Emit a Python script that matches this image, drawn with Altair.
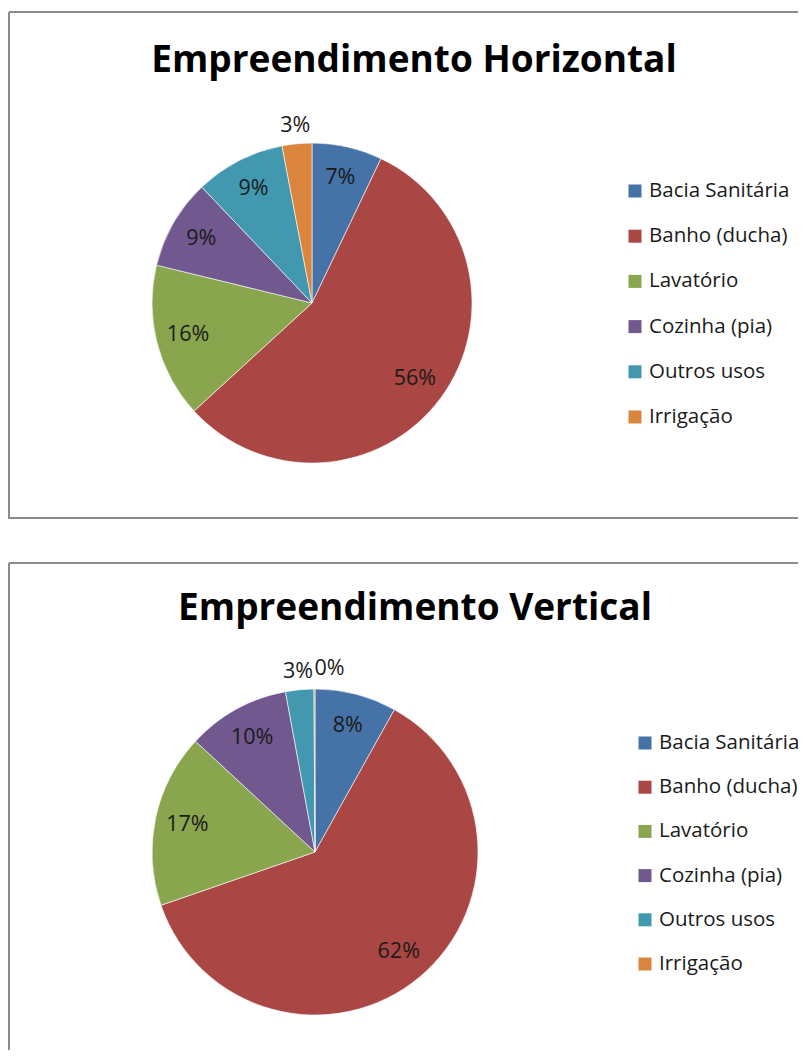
import altair as alt
import pandas as pd

categories = ["Bacia Sanitária", "Banho (ducha)", "Lavatório", "Cozinha (pia)", "Outros usos", "Irrigação"]
colors = ["#4572A7", "#AA4643", "#89A54E", "#71588F", "#4198AF", "#DB843D"]
horizontal = [7.1, 56.1, 15.6, 9.1, 9.1, 3.0]
vertical = [8.1, 61.6, 17.2, 10.2, 2.8, 0.1]
titles = ["Empreendimento Horizontal", "Empreendimento Vertical"]

FONT = "Open Sans"
W = 790
BORDER = "#8c8c8c"


def panel(values, title, cx, cy, r, leg_x, leg_y0, leg_y1, title_x, title_y, height, closed):
    df = pd.DataFrame({"cat": categories, "idx": list(range(len(categories))), "value": values})
    labels = [f"{int(round(v))}%" for v in values]
    df["inner"] = [l if v >= 5 else "" for l, v in zip(labels, values)]
    df["outer"] = [l if 1 <= v < 5 else "" for l, v in zip(labels, values)]
    df["tiny"] = [l if v < 1 else "" for l, v in zip(labels, values)]
    base = alt.Chart(df)
    color = alt.Color("cat:N", scale=alt.Scale(domain=categories, range=colors), legend=None)
    theta = alt.Theta("value:Q", stack=True)
    order = alt.Order("idx:Q")
    cxv, cyv = alt.value(cx), alt.value(cy)

    arcs = base.mark_arc(radius=r, stroke="white", strokeWidth=0.6).encode(
        theta=theta, color=color, order=order, x=cxv, y=cyv)
    txt = dict(font=FONT, fontSize=21.5, color="#1a1a1a", baseline="middle", align="center")
    inner = base.mark_text(radius=r * 0.8, **txt).encode(
        theta=theta, order=order, detail="cat:N", x=cxv, y=cyv, text="inner:N")
    outer = base.mark_text(radius=r + 18, **txt).encode(
        theta=theta, order=order, detail="cat:N", x=cxv, y=cyv, text="outer:N")
    tiny = base.mark_text(radius=r + 20, dx=15, **txt).encode(
        theta=theta, order=order, detail="cat:N", x=cxv, y=cyv, text="tiny:N")

    ly = alt.Y("cat:N", sort=categories, axis=None,
               scale=alt.Scale(type="point", range=[leg_y0, leg_y1], padding=0))
    leg = base.mark_square(size=169, opacity=1).encode(x=alt.value(leg_x), y=ly, color=color)
    legtxt = base.mark_text(font=FONT, fontSize=20.5, align="left", baseline="middle",
                            color="#1a1a1a").encode(x=alt.value(leg_x + 14), y=ly, text="cat:N")

    tdf = pd.DataFrame({"t": [title]})
    ttl = alt.Chart(tdf).mark_text(font=FONT, fontWeight="bold", fontSize=37, align="center",
                                   baseline="alphabetic", color="black").encode(
        x=alt.value(title_x), y=alt.value(title_y), text="t:N")

    one = alt.Chart(pd.DataFrame({"a": [0]}))
    rules = [
        one.mark_rule(color=BORDER, strokeWidth=2).encode(x=alt.value(1), y=alt.value(1), y2=alt.value(height)),
        one.mark_rule(color=BORDER, strokeWidth=2).encode(x=alt.value(1), x2=alt.value(W), y=alt.value(1)),
    ]
    if closed:
        rules.append(one.mark_rule(color=BORDER, strokeWidth=2).encode(
            x=alt.value(1), x2=alt.value(W), y=alt.value(height - 1)))

    return alt.layer(*rules, arcs, inner, outer, tiny, leg, legtxt, ttl).properties(width=W, height=height)


top = panel(horizontal, titles[0], 304, 292, 160, 627, 180, 406, 406, 61, 508, True)
bottom = panel(vertical, titles[1], 307, 290, 163, 637, 181, 402, 407, 58, 488, False)

chart = alt.vconcat(top, bottom, spacing=42).properties(
    padding={"left": 0, "top": 3, "right": 0, "bottom": 0}
).configure_view(stroke=None)

chart.save("out.html", embed_options={"renderer": "svg", "actions": False})
